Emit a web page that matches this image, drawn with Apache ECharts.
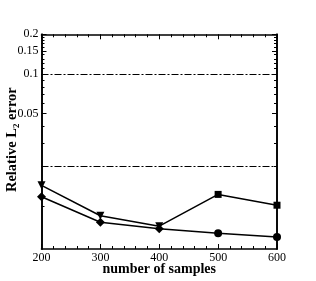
<!DOCTYPE html>
<html><head><meta charset="utf-8">
<script src="https://cdn.jsdelivr.net/npm/echarts@6/dist/echarts.min.js"></script>
<style>html,body{margin:0;padding:0;background:#fff}#c{width:316px;height:281px}</style>
</head><body><div id="c"></div>
<script>
const samples = [200, 300, 400, 500, 600];
const errA = [0.0143, 0.0084, 0.0070, 0.0122, 0.0101];
const symA = ['triangle', 'triangle', 'triangle', 'rect', 'rect'];
const errB = [0.0117, 0.0075, 0.0067, 0.0062, 0.0058];
const symB = ['diamond', 'diamond', 'diamond', 'circle', 'circle'];
const refLines = [0.1, 0.022];
const yLabels = [0.05, 0.1, 0.15, 0.2];
const yMinor = [0.01, 0.02, 0.03, 0.04, 0.06, 0.07, 0.08, 0.09, 0.11, 0.12, 0.13, 0.14, 0.16, 0.17, 0.18, 0.19];
const xLabels = [200, 300, 400, 500, 600];

const F = 'Liberation Serif, Times New Roman, serif';
const YMIN = 0.0047, YMAX = 0.2;
const line = { lineStyle: { color: '#000', width: 1.5 } };

function yAx(pos, ticks, len, labels) {
  return {
    type: 'log', logBase: 10, min: YMIN, max: YMAX, position: pos,
    axisLine: { show: true, onZero: false, lineStyle: { color: '#000', width: 1.6 } },
    axisTick: { show: true, inside: true, length: len, customValues: ticks, lineStyle: { color: '#000', width: 1 } },
    axisLabel: labels ? { show: true, customValues: yLabels, fontFamily: F, fontSize: 12, color: '#000', margin: 3,
      formatter: v => String(+v.toPrecision(3)) } : { show: false },
    splitLine: { show: false }, minorTick: { show: false }
  };
}
function xAx(pos, labels) {
  return {
    type: 'value', min: 200, max: 600, interval: 100, position: pos,
    axisLine: { show: true, onZero: false, lineStyle: { color: '#000', width: 1.6 } },
    axisTick: { show: true, inside: true, length: 5, lineStyle: { color: '#000', width: 1 } },
    minorTick: { show: true, splitNumber: 5, length: 3, lineStyle: { color: '#000', width: 1 } },
    axisLabel: labels ? { show: true, fontFamily: F, fontSize: 12, color: '#000', margin: 3 } : { show: false },
    splitLine: { show: false }
  };
}

const xa0 = xAx('bottom', true);
xa0.name = 'number of samples';
xa0.nameLocation = 'middle';
xa0.nameGap = 13;
xa0.nameMoveOverlap = false;
xa0.nameTextStyle = { fontFamily: F, fontSize: 14, fontWeight: 'bold', color: '#000' };

const ya0 = yAx('left', yLabels, 5, true);
ya0.name = '{a|Relative L}{s|2}{a| error}';
ya0.nameLocation = 'middle';
ya0.nameGap = 20;
ya0.nameRotate = 90;
ya0.nameMoveOverlap = false;
ya0.nameTextStyle = { padding: [0, 0, 0, 4], rich: {
  a: { fontFamily: F, fontSize: 14.5, fontWeight: 'bold', color: '#000' },
  s: { fontFamily: F, fontSize: 9, fontWeight: 'bold', color: '#000', verticalAlign: 'bottom', padding: [9, 0, 0, 0] }
} };

const option = {
  animation: false,
  backgroundColor: '#fff',
  grid: { left: 41.5, right: 39, top: 34.3, bottom: 32, containLabel: false, outerBoundsMode: 'none' },
  xAxis: [xa0, xAx('top', false)],
  yAxis: [ya0, yAx('left', yMinor, 3, false), yAx('right', yLabels, 5, false), yAx('right', yMinor, 3, false)],
  series: [
    {
      type: 'line', xAxisIndex: 0, yAxisIndex: 0, ...line, itemStyle: { color: '#000' },
      data: samples.map((x, i) => ({ value: [x, errA[i]], symbol: symA[i],
        symbolRotate: symA[i] === 'triangle' ? 180 : 0, symbolSize: symA[i] === 'triangle' ? 8 : 7 })),
      markLine: {
        silent: true, symbol: 'none', label: { show: false },
        lineStyle: { color: '#000', width: 1, type: [7, 2, 2, 2] },
        data: refLines.map(v => ({ yAxis: v }))
      }
    },
    {
      type: 'line', xAxisIndex: 0, yAxisIndex: 0, ...line, itemStyle: { color: '#000' },
      data: samples.map((x, i) => ({ value: [x, errB[i]], symbol: symB[i],
        symbolSize: symB[i] === 'diamond' ? 9 : 8 }))
    }
  ]
};
echarts.init(document.getElementById('c')).setOption(option);
</script></body></html>
